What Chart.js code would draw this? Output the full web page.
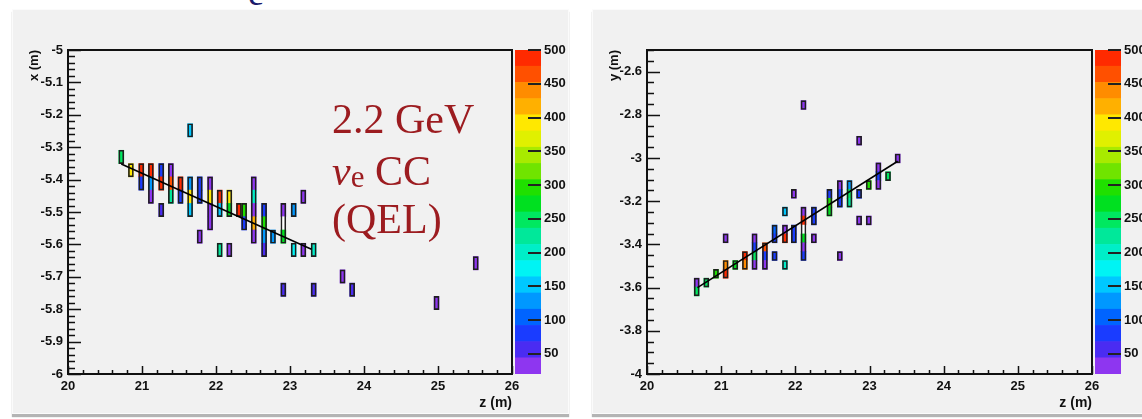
<!DOCTYPE html>
<html>
<head>
<meta charset="utf-8">
<script src="https://cdn.jsdelivr.net/npm/chart.js@4.4.1/dist/chart.umd.min.js"></script>
<style>
  body { margin: 0; width: 1142px; height: 419px; background: #fff; position: relative; overflow: hidden; }
  .panel { position: absolute; top: 9px; height: 403px; background: #f1f1f1; border: 1px solid #fbfbfb; box-shadow: 0 3px 1px #b4b4b4; }
  .box { position: absolute; top: 0; height: 419px; }
  .note { position: absolute; left: 332px; font-family: 'Liberation Serif', 'Times New Roman', serif; color: #9c1c20; font-size: 42px; line-height: 42px; white-space: nowrap; }
</style>
</head>
<body>
<div class="panel" style="left:12px;width:555px"></div>
<div class="panel" style="left:592px;width:560px"></div>
<div style="position:absolute;left:248px;top:-25px;font-family:'Liberation Serif',serif;font-size:36px;line-height:36px;color:#1b1b6b">e</div>

<div class="box" style="left:0;width:560px"><canvas id="xz"></canvas></div>
<div class="box" style="left:515px;width:60px"><canvas id="xzPal"></canvas></div>
<div class="box" style="left:580px;width:560px"><canvas id="yz"></canvas></div>
<div class="box" style="left:1095px;width:60px"><canvas id="yzPal"></canvas></div>

<div class="note" style="top:98px">2.2 GeV</div>
<div class="note" style="top:150px"><i>ν</i><span style="font-size:31px;position:relative;top:2px">e</span> CC</div>
<div class="note" style="top:198px">(QEL)</div>

<script>
// axis ticks
const zTicks = [20, 21, 22, 23, 24, 25, 26];
const xTicks = [-6, -5.9, -5.8, -5.7, -5.6, -5.5, -5.4, -5.3, -5.2, -5.1, -5];
const yTicks = [-4, -3.8, -3.6, -3.4, -3.2, -3, -2.8, -2.6];
const paletteTicks = [50, 100, 150, 200, 250, 300, 350, 400, 450, 500];
const paletteMin = 20;
const paletteMax = 500;
// colour bands, bottom to top
const palette = [
  '#8e36f0', '#4a2cf2', '#1a3cff', '#0064ff', '#0098ff',
  '#00c8ff', '#00f4f4', '#00eec8', '#00e89a', '#00e860',
  '#00e020', '#20e000', '#70e400', '#a8ea00', '#e0f000',
  '#ffe800', '#ffb000', '#ff8c00', '#ff5000', '#ff2a00'
];
const BIN = 0.041;

// x-z view hits
const xzZ = [
  20.72,
  20.85,
  20.99, 20.99,
  21.12, 21.12, 21.12,
  21.26, 21.26, 21.26,
  21.39, 21.39, 21.39,
  21.52, 21.52,
  21.65, 21.65, 21.65, 21.65,
  21.78, 21.78, 21.78,
  21.92, 21.92, 21.92, 21.92,
  22.05, 22.05, 22.05,
  22.18, 22.18, 22.18,
  22.31,
  22.38, 22.38,
  22.51, 22.51, 22.51, 22.51, 22.51,
  22.65, 22.65, 22.65, 22.65,
  22.77,
  22.91, 22.91, 22.91, 22.91,
  23.05, 23.05,
  23.18, 23.18,
  23.32, 23.32,
  23.71, 23.84, 24.98, 25.51
];
const xzX = [
  -5.330,
  -5.371,
  -5.371, -5.412,
  -5.371, -5.412, -5.453,
  -5.371, -5.412, -5.494,
  -5.371, -5.412, -5.453,
  -5.412, -5.453,
  -5.248, -5.412, -5.453, -5.494,
  -5.412, -5.453, -5.576,
  -5.412, -5.453, -5.494, -5.535,
  -5.453, -5.494, -5.617,
  -5.453, -5.494, -5.617,
  -5.494,
  -5.494, -5.535,
  -5.412, -5.453, -5.494, -5.535, -5.576,
  -5.494, -5.535, -5.576, -5.617,
  -5.576,
  -5.494, -5.535, -5.576, -5.740,
  -5.494, -5.617,
  -5.453, -5.617,
  -5.617, -5.740,
  -5.699, -5.740, -5.781, -5.658
];
const xzVal = [
  245,
  390,
  490, 80,
  485, 130, 35,
  85, 480, 55,
  35, 470, 220,
  490, 85,
  140, 125, 385, 150,
  80, 90, 35,
  35, 395, 35, 40,
  480, 145, 215,
  385, 280, 35,
  480,
  290, 70,
  35, 195, 35, 420, 35,
  75, 285, 135, 65,
  130,
  35, 520, 270, 65,
  125, 175,
  35, 38,
  200, 65,
  35, 55, 35, 35
];
const xzFitZ = [20.72, 23.29];
const xzFitX = [-5.352, -5.615];

// y-z view hits
const yzZ = [
  20.67, 20.67,
  20.80,
  20.93,
  21.06, 21.06, 21.06,
  21.19,
  21.32, 21.32,
  21.45, 21.45, 21.45, 21.45,
  21.59, 21.59, 21.59,
  21.72, 21.72, 21.72,
  21.86, 21.86, 21.86, 21.86,
  21.98, 21.98, 21.98,
  22.11, 22.11, 22.11, 22.11, 22.11, 22.11, 22.11,
  22.25, 22.25, 22.25,
  22.46, 22.46, 22.46,
  22.60, 22.60, 22.60, 22.60,
  22.73, 22.73, 22.73,
  22.86, 22.86, 22.86,
  22.99, 22.99,
  23.12, 23.12, 23.12,
  23.25,
  23.38
];
const yzY = [
  -3.577, -3.618,
  -3.577,
  -3.536,
  -3.372, -3.495, -3.536,
  -3.495,
  -3.454, -3.495,
  -3.372, -3.413, -3.454, -3.495,
  -3.413, -3.454, -3.495,
  -3.331, -3.372, -3.454,
  -3.248, -3.331, -3.372, -3.495,
  -3.166, -3.331, -3.372,
  -2.755, -3.248, -3.289, -3.331, -3.372, -3.413, -3.454,
  -3.248, -3.289, -3.372,
  -3.166, -3.207, -3.248,
  -3.125, -3.166, -3.207, -3.454,
  -3.125, -3.166, -3.207,
  -2.920, -3.166, -3.289,
  -3.125, -3.289,
  -3.043, -3.084, -3.125,
  -3.084,
  -3.002
];
const yzVal = [
  35, 240,
  250,
  290,
  35, 440, 480,
  270,
  480, 430,
  35, 80, 240, 35,
  470, 90, 35,
  95, 85, 80,
  150, 35, 480, 200,
  35, 85, 90,
  35, 35, 480, 520, 260, 35, 75,
  80, 85, 35,
  85, 290, 265,
  35, 90, 90, 35,
  120, 245, 230,
  35, 75, 35,
  290, 35,
  35, 70, 40,
  240,
  35
];
const yzFitZ = [20.68, 23.38];
const yzFitY = [-3.60, -3.015];

Chart.defaults.font.family = "'Liberation Sans', Arial, sans-serif";
Chart.defaults.color = '#111';

const tickFont = { size: 13, weight: 'bold' };

function colorFor(v) {
  if (v > paletteMax) return '#ffffff';
  const i = Math.floor((v - paletteMin) / (paletteMax - paletteMin) * palette.length);
  return palette[Math.max(0, Math.min(palette.length - 1, i))];
}

// merge hits that touch into one outlined strip per column
function strips(z, v) {
  const cols = {};
  z.forEach((zz, i) => {
    (cols[zz] = cols[zz] || []).push(v[i]);
  });
  const out = [];
  Object.keys(cols).forEach(k => {
    const vs = cols[k].sort((a, b) => a - b);
    let lo = vs[0], hi = vs[0];
    for (let i = 1; i <= vs.length; i++) {
      if (i < vs.length && vs[i] - hi < BIN * 1.5) {
        hi = vs[i];
      } else {
        out.push({ x: parseFloat(k), y: [lo - BIN / 2, hi + BIN / 2] });
        if (i < vs.length) { lo = vs[i]; hi = vs[i]; }
      }
    }
  });
  return out;
}

// ROOT style frame with inward ticks
const rootAxes = {
  id: 'rootAxes',
  afterDatasetsDraw(chart, args, opts) {
    const { ctx, chartArea: a, scales: { x, y } } = chart;
    ctx.save();
    ctx.strokeStyle = '#111';
    ctx.lineWidth = 1.5;
    ctx.beginPath();
    let n = Math.round((x.max - x.min) / opts.xMinor);
    let r = Math.round(opts.xMajor / opts.xMinor);
    for (let i = 0; i <= n; i++) {
      const px = Math.round(x.getPixelForValue(x.min + i * opts.xMinor)) + 0.5;
      ctx.moveTo(px, a.bottom);
      ctx.lineTo(px, a.bottom - (i % r === 0 ? 8 : 4));
    }
    n = Math.round((y.max - y.min) / opts.yMinor);
    r = Math.round(opts.yMajor / opts.yMinor);
    for (let i = 0; i <= n; i++) {
      const py = Math.round(y.getPixelForValue(y.min + i * opts.yMinor)) + 0.5;
      ctx.moveTo(a.left, py);
      ctx.lineTo(a.left + (i % r === 0 ? 13 : 7), py);
    }
    ctx.stroke();
    ctx.lineWidth = 2;
    ctx.strokeRect(a.left, a.top, a.right - a.left, a.bottom - a.top);
    ctx.restore();
  }
};

const paletteAxis = {
  id: 'paletteAxis',
  afterDatasetsDraw(chart) {
    const { ctx, chartArea: a, scales: { y } } = chart;
    ctx.save();
    ctx.strokeStyle = '#222';
    ctx.lineWidth = 2;
    ctx.beginPath();
    paletteTicks.forEach(v => {
      const py = Math.round(y.getPixelForValue(v));
      ctx.moveTo(a.right, py);
      ctx.lineTo(a.right - 13, py);
    });
    ctx.stroke();
    ctx.restore();
  }
};

function histChart(id, z, v, val, fitZ, fitV, vMin, vMax, vTicks, vTitle, yAxisWidth, minor) {
  new Chart(document.getElementById(id), {
    type: 'bar',
    data: {
      datasets: [
        {
          type: 'line',
          data: fitZ.map((zz, i) => ({ x: zz, y: fitV[i] })),
          borderColor: '#000',
          borderWidth: 1.6,
          pointRadius: 0,
          order: 0
        },
        {
          data: strips(z, v),
          backgroundColor: 'rgba(0,0,0,0)',
          borderColor: '#1e1e1e',
          borderWidth: 1,
          borderSkipped: false,
          barThickness: 5,
          grouped: false,
          order: 1
        },
        {
          data: z.map((zz, i) => ({ x: zz, y: [v[i] - BIN / 2, v[i] + BIN / 2] })),
          backgroundColor: val.map(colorFor),
          borderWidth: 0,
          barThickness: 5,
          grouped: false,
          order: 2
        }
      ]
    },
    options: {
      responsive: true,
      maintainAspectRatio: false,
      animation: false,
      events: [],
      devicePixelRatio: 1,
      layout: { padding: { left: 0, top: 50, right: 48, bottom: 0 } },
      plugins: {
        legend: { display: false },
        tooltip: { enabled: false },
        rootAxes: minor
      },
      scales: {
        x: {
          type: 'linear',
          min: 20,
          max: 26,
          offset: false,
          afterBuildTicks: s => { s.ticks = zTicks.map(t => ({ value: t })); },
          afterFit: s => { s.height = 45; },
          grid: { display: false, drawTicks: false },
          border: { display: false },
          ticks: { font: tickFont, padding: 5, maxRotation: 0, autoSkip: false, callback: t => String(t) },
          title: { display: true, text: 'z (m)', align: 'end', font: { size: 14, weight: 'bold' }, padding: { top: 0, bottom: 7 } }
        },
        y: {
          type: 'linear',
          min: vMin,
          max: vMax,
          afterBuildTicks: s => { s.ticks = vTicks.map(t => ({ value: t })); },
          afterFit: s => { s.width = yAxisWidth; },
          grid: { display: false, drawTicks: false },
          border: { display: false },
          ticks: { font: tickFont, padding: 5, autoSkip: false, callback: t => String(Math.round(t * 10) / 10) },
          title: { display: true, text: vTitle, align: 'end', font: { size: 13, weight: 'bold' }, padding: { top: 27, bottom: 0 } }
        }
      }
    },
    plugins: [rootAxes]
  });
}

function paletteChart(id) {
  const step = (paletteMax - paletteMin) / palette.length;
  new Chart(document.getElementById(id), {
    type: 'bar',
    data: {
      labels: ['z'],
      datasets: palette.map((c, i) => ({
        data: [[paletteMin + i * step, paletteMin + (i + 1) * step]],
        backgroundColor: c,
        borderWidth: 0,
        grouped: false,
        barPercentage: 1,
        categoryPercentage: 1
      }))
    },
    options: {
      responsive: true,
      maintainAspectRatio: false,
      animation: false,
      events: [],
      devicePixelRatio: 1,
      layout: { padding: { left: 0, top: 50, right: 0, bottom: 45 } },
      plugins: { legend: { display: false }, tooltip: { enabled: false } },
      scales: {
        x: { display: false },
        y: {
          position: 'right',
          min: paletteMin,
          max: paletteMax,
          afterBuildTicks: s => { s.ticks = paletteTicks.map(t => ({ value: t })); },
          afterFit: s => { s.width = 34; },
          grid: { display: false, drawTicks: false },
          border: { display: false },
          ticks: { font: tickFont, padding: 3, autoSkip: false }
        }
      }
    },
    plugins: [paletteAxis]
  });
}

histChart('xz', xzZ, xzX, xzVal, xzFitZ, xzFitX, -6, -5, xTicks, 'x (m)', 68,
  { xMinor: 0.2, xMajor: 1, yMinor: 0.02, yMajor: 0.1 });
histChart('yz', yzZ, yzY, yzVal, yzFitZ, yzFitY, -4, -2.5, yTicks, 'y (m)', 67,
  { xMinor: 0.2, xMajor: 1, yMinor: 0.05, yMajor: 0.2 });
paletteChart('xzPal');
paletteChart('yzPal');
</script>
</body>
</html>
